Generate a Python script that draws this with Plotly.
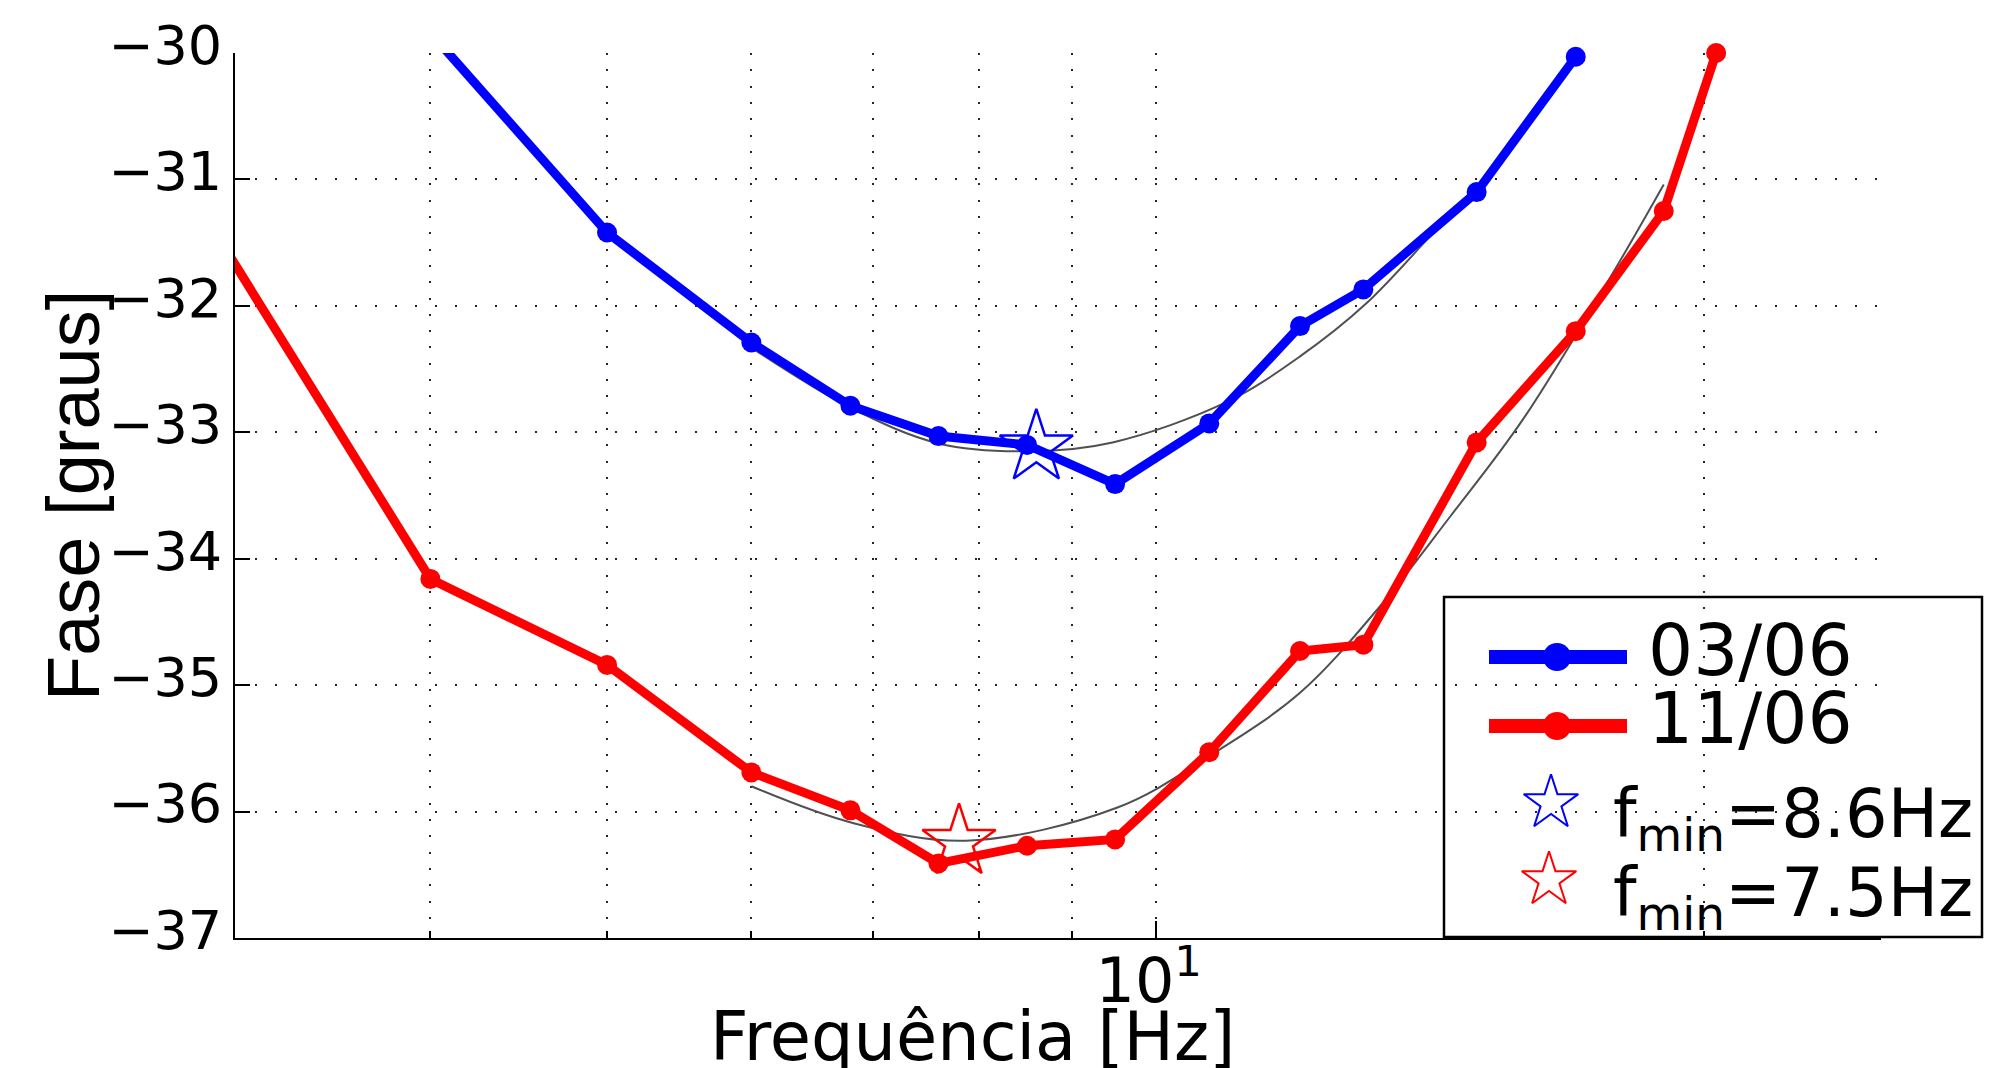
import math
import plotly.graph_objects as go

# ---------------- data ----------------
freq_0306 = [4, 5, 6, 6.8, 7.6, 8.5, 9.5, 10.7, 12, 13, 15, 17]
fase_0306 = [-29.84, -31.42, -32.29, -32.79, -33.03, -33.10, -33.41, -32.93,
             -32.16, -31.87, -31.10, -30.03]

freq_1106 = [3, 4, 5, 6, 6.8, 7.6, 8.5, 9.5, 10.7, 12, 13, 15, 17, 19, 20.3]
fase_1106 = [-31.26, -34.16, -34.84, -35.69, -35.99, -36.41, -36.27, -36.22,
             -35.53, -34.73, -34.68, -33.08, -32.20, -31.25, -30.00]

fit_0306_f = [6.0, 6.79, 7.61, 8.54, 9.47, 10.94, 12.0, 13.05, 14.5, 15.0]
fit_0306_v = [-32.33, -32.80, -33.09, -33.15, -33.08, -32.76, -32.40, -31.98, -31.28, -31.07]

fit_1106_f = [6.0, 6.82, 7.87, 9.52, 10.73, 12.0, 13.27, 14.5, 15.9, 17.8, 19.0]
fit_1106_v = [-35.80, -36.09, -36.23, -35.97, -35.55, -35.06, -34.38, -33.67, -32.90, -31.75, -31.04]

fmin_f = [8.6, 7.8]
fmin_v = [-33.12, -36.24]

series_names = ["03/06", "11/06"]
fmin_labels = ["f<sub>min</sub>=8.6Hz", "f<sub>min</sub>=7.5Hz"]
y_ticks = [-37, -36, -35, -34, -33, -32, -31, -30]
x_major = [10]
x_major_text = ["10<sup>1</sup>"]
x_minor = [4, 5, 6, 7, 8, 9, 20]

X_RANGE = [3.125, 25]
Y_RANGE = [-37, -30]

BLUE = "rgb(0,0,255)"
RED = "rgb(255,0,0)"
GRAY = "rgb(80,80,80)"
TICKFONT = "DejaVu Sans"

# ---------------- figure geometry ----------------
W, H = 2005, 1068
L, R, T, B = 235, 2005 - 1881, 53, 1068 - 938
PW, PH = W - L - R, H - T - B


def px(x):
    return (x - L) / PW


def py(y):
    return (H - B - y) / PH


def in_range(f, v):
    return X_RANGE[0] <= f <= X_RANGE[1] and Y_RANGE[0] <= v <= Y_RANGE[1] + 1e-9


fig = go.Figure()

# fitted curves
for ff, vv in [(fit_0306_f, fit_0306_v), (fit_1106_f, fit_1106_v)]:
    fig.add_trace(go.Scatter(x=ff, y=vv, mode="lines", line=dict(color=GRAY, width=2, shape="spline"),
                             hoverinfo="skip", showlegend=False))

# measured series
for ff, vv, col, name in [(freq_0306, fase_0306, BLUE, series_names[0]),
                          (freq_1106, fase_1106, RED, series_names[1])]:
    fig.add_trace(go.Scatter(x=ff, y=vv, mode="lines", line=dict(color=col, width=9),
                             name=name, showlegend=False))
    mf = [f for f, v in zip(ff, vv) if in_range(f, v)]
    mv = [v for f, v in zip(ff, vv) if in_range(f, v)]
    fig.add_trace(go.Scatter(x=mf, y=mv, mode="markers", marker=dict(color=col, size=20),
                             cliponaxis=False, showlegend=False))

# minimum stars
for f, v, col in zip(fmin_f, fmin_v, [BLUE, RED]):
    fig.add_trace(go.Scatter(x=[f], y=[v], mode="markers",
                             marker=dict(symbol="star-open", size=55, color=col,
                                         line=dict(width=2.5, color=col)),
                             cliponaxis=False, showlegend=False))

# ---------------- manual legend ----------------
shapes = [dict(type="rect", xref="paper", yref="paper", x0=px(1444), x1=px(1982),
               y0=py(937), y1=py(597), line=dict(color="black", width=2.5),
               fillcolor="white", layer="between")]
for yy, col in [(657, BLUE), (726, RED)]:
    shapes.append(dict(type="line", xref="paper", yref="paper", x0=px(1489), x1=px(1627),
                       y0=py(yy), y1=py(yy), line=dict(color=col, width=14), layer="between"))

fig.add_trace(go.Scatter(x=[px(1557), px(1557)], y=[py(657), py(726)], xaxis="x2", yaxis="y2",
                         mode="markers", marker=dict(color=[BLUE, RED], size=28),
                         cliponaxis=False, showlegend=False, hoverinfo="skip"))
fig.add_trace(go.Scatter(x=[px(1551), px(1549)], y=[py(803), py(880)], xaxis="x2", yaxis="y2",
                         mode="markers", marker=dict(symbol="star-open", size=41, color=[BLUE, RED],
                                                     line=dict(width=2, color=[BLUE, RED])),
                         cliponaxis=False, showlegend=False, hoverinfo="skip"))

annotations = []
for txt, xx, yy in [(series_names[0], 1646, 650), (series_names[1], 1646, 718)]:
    annotations.append(dict(text=txt, xref="paper", yref="paper", x=px(xx), y=py(yy),
                            xanchor="left", yanchor="middle", showarrow=False,
                            font=dict(family="DejaVu Sans", size=71, color="black")))
for txt, xx, yy in [(fmin_labels[0], 1611, 818), (fmin_labels[1], 1611, 897)]:
    annotations.append(dict(text=txt, xref="paper", yref="paper", x=px(xx), y=py(yy),
                            xanchor="left", yanchor="middle", showarrow=False,
                            font=dict(family="DejaVu Sans", size=67, color="black")))

# axis titles
annotations.append(dict(text="Frequência [Hz]", xref="paper", yref="paper", x=px(972), y=py(1037),
                        xanchor="center", yanchor="middle", showarrow=False,
                        font=dict(family="DejaVu Sans", size=67, color="black")))
annotations.append(dict(text="Fase [graus]", xref="paper", yref="paper", x=px(73), y=py(496),
                        xanchor="center", yanchor="middle", showarrow=False, textangle=-90,
                        font=dict(family="Liberation Sans", size=74, color="black")))

grid_col = "rgba(0,0,0,0.85)"
fig.update_layout(
    width=W, height=H, autosize=False,
    margin=dict(l=L, r=R, t=T, b=B, pad=0),
    paper_bgcolor="white", plot_bgcolor="white",
    showlegend=False,
    shapes=shapes, annotations=annotations,
    xaxis=dict(type="log", range=[math.log10(X_RANGE[0]), math.log10(X_RANGE[1])],
               tickmode="array", tickvals=x_major, ticktext=x_major_text,
               ticks="inside", ticklen=17, tickwidth=2, tickcolor="black",
               showline=True, linecolor="black", linewidth=2, mirror=False,
               showgrid=True, gridcolor=grid_col, gridwidth=2, griddash="2px,14.3px",
               zeroline=False, ticklabelstandoff=-12, ticklabelshift=-7,
               tickfont=dict(family=TICKFONT, size=62, color="black"),
               minor=dict(tickmode="array", tickvals=x_minor, ticks="inside", ticklen=7,
                          tickwidth=2, tickcolor="black", showgrid=True, gridcolor=grid_col,
                          gridwidth=2, griddash="2px,14.3px")),
    yaxis=dict(range=Y_RANGE, tickmode="array", tickvals=y_ticks,
               ticks="inside", ticklen=15, tickwidth=2, tickcolor="black",
               showline=True, linecolor="black", linewidth=2, mirror=False,
               showgrid=True, gridcolor=grid_col, gridwidth=2, griddash="2px,18px",
               zeroline=False, ticklabelshift=-8,
               tickfont=dict(family=TICKFONT, size=54, color="black")),
    xaxis2=dict(overlaying="x", range=[0, 1], visible=False, fixedrange=True),
    yaxis2=dict(overlaying="y", range=[0, 1], visible=False, fixedrange=True),
)

fig.write_html("out.html", config={"displayModeBar": False},
               post_script="document.body.style.margin='0';")
